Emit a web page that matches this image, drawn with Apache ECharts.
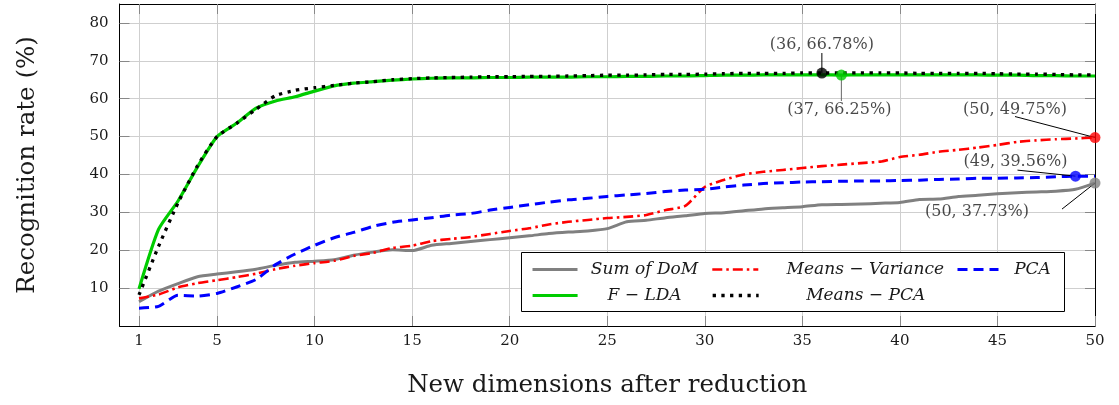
<!DOCTYPE html>
<html>
<head>
<meta charset="utf-8">
<script src="https://cdn.jsdelivr.net/npm/echarts@6/dist/echarts.min.js"></script>
<style>
  html, body { margin: 0; padding: 0; background: #fff; }
  #chart { width: 1119px; height: 405px; }
</style>
</head>
<body>
<div id="chart"></div>
<script>
// Number of retained dimensions after reduction
const dims = [1, 2, 3, 4, 5, 6, 7, 8, 9, 10, 11, 12, 13, 14, 15, 16, 17, 18, 19, 20,
  21, 22, 23, 24, 25, 26, 27, 28, 29, 30, 31, 32, 33, 34, 35, 36, 37, 38, 39, 40,
  41, 42, 43, 44, 45, 46, 47, 48, 49, 50];

// Recognition rate (%) per method
const sumOfDoM = [6.4, 9.2, 11.2, 13.0, 13.7, 14.3, 15.0, 16.0, 16.8, 17.1,
  17.5, 18.7, 19.5, 20.1, 19.9, 21.3, 21.8, 22.3, 22.8, 23.3,
  23.8, 24.4, 24.8, 25.1, 25.7, 27.5, 27.9, 28.6, 29.1, 29.7,
  29.9, 30.4, 30.9, 31.2, 31.5, 32.0, 32.1, 32.2, 32.4, 32.6,
  33.4, 33.5, 34.2, 34.5, 34.9, 35.2, 35.4, 35.6, 36.1, 37.73];
const meansVariance = [7.3, 8.3, 10.2, 11.3, 12.1, 12.9, 13.8, 15.0, 15.9, 16.6,
  17.2, 18.5, 19.3, 20.6, 21.2, 22.4, 23.0, 23.5, 24.3, 25.1,
  25.8, 26.8, 27.5, 28.0, 28.5, 28.8, 29.3, 30.6, 31.7, 36.7,
  38.6, 40.0, 40.7, 41.2, 41.7, 42.2, 42.6, 43.0, 43.4, 44.6,
  45.2, 46.0, 46.5, 47.1, 47.8, 48.6, 49.0, 49.3, 49.5, 49.75];
const pca = [4.7, 5.2, 8.1, 7.9, 8.6, 10.3, 12.3, 16.2, 19.0, 21.3,
  23.3, 24.7, 26.3, 27.4, 28.0, 28.6, 29.3, 29.7, 30.6, 31.3,
  32.0, 32.7, 33.3, 33.7, 34.2, 34.6, 35.0, 35.5, 35.9, 36.1,
  36.7, 37.2, 37.6, 37.8, 38.0, 38.1, 38.2, 38.3, 38.3, 38.4,
  38.5, 38.7, 38.8, 39.0, 39.0, 39.1, 39.2, 39.4, 39.56, 39.5];
const fLda = [9.8, 25.5, 33.0, 42.0, 50.0, 53.5, 57.5, 59.4, 60.5, 62.0,
  63.4, 64.1, 64.5, 64.9, 65.2, 65.4, 65.5, 65.5, 65.6, 65.6,
  65.7, 65.7, 65.7, 65.8, 65.8, 65.9, 65.9, 66.0, 66.0, 66.1,
  66.2, 66.2, 66.3, 66.3, 66.3, 66.3, 66.25, 66.3, 66.3, 66.3,
  66.3, 66.3, 66.3, 66.3, 66.2, 66.2, 66.1, 66.1, 66.0, 66.0];
const meansPca = [8.2, 21.0, 32.5, 42.3, 50.0, 53.5, 57.2, 60.8, 62.2, 62.9,
  63.5, 64.1, 64.5, 65.0, 65.3, 65.5, 65.6, 65.7, 65.8, 65.8,
  65.9, 65.9, 66.0, 66.1, 66.2, 66.2, 66.3, 66.4, 66.4, 66.5,
  66.6, 66.7, 66.7, 66.7, 66.8, 66.78, 66.8, 66.8, 66.8, 66.8,
  66.7, 66.7, 66.7, 66.7, 66.6, 66.5, 66.5, 66.4, 66.3, 66.3];

// Tick positions
const xTicks = [1, 5, 10, 15, 20, 25, 30, 35, 40, 45, 50];
const yTicks = [10, 20, 30, 40, 50, 60, 70, 80];

// Series names as shown in the legend
const names = ['Sum of DoM', 'Means − Variance', 'PCA', 'F − LDA', 'Means − PCA'];

// Highlighted points: which series and which dimension
const highlightSeries = ['Means − PCA', 'F − LDA', 'Means − Variance', 'PCA', 'Sum of DoM'];
const highlightDims = [36, 37, 50, 49, 50];

// ---- styling ----
const FONT = 'DejaVu Serif';
const TEXT = '#1a1a1a';
const valuesByName = {
  'Sum of DoM': sumOfDoM,
  'Means − Variance': meansVariance,
  'PCA': pca,
  'F − LDA': fLda,
  'Means − PCA': meansPca
};
const styleByName = {
  'Sum of DoM':       { color: '#808080', width: 3,   type: 'solid' },
  'Means − Variance': { color: '#ff0000', width: 2.6, type: [10, 4, 2.5, 4] },
  'PCA':              { color: '#0000ff', width: 3,   type: [10, 6] },
  'F − LDA':          { color: '#00cc00', width: 3.2, type: 'solid' },
  'Means − PCA':      { color: '#000000', width: 3.3, type: [3.3, 5.4] }
};
// label centre offset and leader-line end offset, relative to each highlighted dot
const calloutStyle = [
  { label: [0, -28],   lead: [0, -20],   leadColor: '#000' },
  { label: [-2, 35],   lead: [0, 26],    leadColor: '#666' },
  { label: [-80, -28], lead: [-80, -21], leadColor: '#000' },
  { label: [-60, -14], lead: [-58, -6],  leadColor: '#000' },
  { label: [-118, 29], lead: [-33, 26],  leadColor: '#000' }
];

const grid = { left: 119.5, right: 24, top: 4, bottom: 79 };

const chart = echarts.init(document.getElementById('chart'), null, { renderer: 'canvas' });

const lineSeries = names.map(name => {
  const st = styleByName[name];
  return {
    name: name,
    type: 'line',
    data: dims.map((d, i) => [d, valuesByName[name][i]]),
    symbol: 'none',
    smooth: 0.2,
    z: 2,
    lineStyle: { color: st.color, width: st.width, type: st.type, cap: 'butt', join: 'round' },
    itemStyle: { color: st.color },
    emphasis: { disabled: true },
    animation: false
  };
});

const dotData = highlightSeries.map((name, k) => {
  const x = highlightDims[k];
  const y = valuesByName[name][dims.indexOf(x)];
  return {
    value: [x, y],
    itemStyle: { color: styleByName[name].color },
    label: { offset: calloutStyle[k].label }
  };
});

const dotSeries = {
  name: 'highlights',
  type: 'scatter',
  data: dotData,
  symbol: 'circle',
  symbolSize: 11,
  z: 5,
  silent: true,
  animation: false,
  label: {
    show: true,
    position: 'inside',
    fontFamily: FONT,
    fontSize: 16,
    color: TEXT,
    formatter: p => '(' + p.value[0] + ', ' + p.value[1].toFixed(2) + '%)'
  }
};

// One legend per cell so the two rows line up in columns
const legendFont = 'italic 17px "' + FONT + '"';
const measureCtx = document.createElement('canvas').getContext('2d');
measureCtx.font = legendFont;
const legendCells = [
  { name: 'Sum of DoM',       left: 531, cy: 270, iconW: 45, center: 643 },
  { name: 'Means − Variance', left: 711, cy: 270, iconW: 46, center: 864 },
  { name: 'PCA',              left: 956, cy: 270, iconW: 41, center: 1031 },
  { name: 'F − LDA',          left: 531, cy: 296, iconW: 45, center: 643 },
  { name: 'Means − PCA',      left: 711, cy: 296, iconW: 46, center: 864 }
];
const legends = legendCells.map(c => {
  const w = measureCtx.measureText(c.name).width;
  const pad = Math.max(0, c.center - w / 2 - (c.left + c.iconW + 5));
  return {
    data: [c.name],
    left: c.left,
    top: c.cy - 9,
    orient: 'horizontal',
    padding: 0,
    itemWidth: c.iconW,
    itemHeight: 14,
    selectedMode: false,
    z: 6,
    itemStyle: { opacity: 0 },
    lineStyle: { width: 'inherit' },
    textStyle: {
      fontFamily: FONT, fontStyle: 'italic', fontSize: 17, color: TEXT,
      padding: [0, 0, 0, pad]
    }
  };
});

const axisText = { fontFamily: FONT, fontSize: 15, color: TEXT };

chart.setOption({
  animation: false,
  backgroundColor: '#fff',
  grid: Object.assign({ containLabel: false, outerBoundsMode: 'none' }, grid),
  legend: legends,
  xAxis: [
    {
      type: 'value', min: 0, max: 50, interval: 5, position: 'bottom',
      name: 'New dimensions after reduction',
      nameLocation: 'middle', nameGap: 47,
      nameTextStyle: { fontFamily: FONT, fontSize: 24.5, color: TEXT },
      axisLine: { show: true, onZero: false, lineStyle: { color: '#000', width: 1 } },
      axisTick: { show: true, inside: true, length: 10, customValues: xTicks,
                  lineStyle: { color: '#888', width: 1 } },
      axisLabel: Object.assign({ customValues: xTicks, margin: 8 }, axisText),
      splitLine: { show: true, lineStyle: { color: '#cfcfcf', width: 1 } }
    },
    {
      type: 'value', min: 0, max: 50, interval: 5, position: 'top',
      axisLine: { show: true, onZero: false, lineStyle: { color: '#000', width: 1 } },
      axisTick: { show: true, inside: true, length: 10, customValues: xTicks,
                  lineStyle: { color: '#888', width: 1 } },
      axisLabel: { show: false },
      splitLine: { show: false }
    }
  ],
  yAxis: [
    {
      type: 'value', min: 0, max: 85, interval: 10, position: 'left',
      name: 'Recognition rate (%)',
      nameLocation: 'middle', nameGap: 79, nameRotate: 90,
      nameTextStyle: { fontFamily: FONT, fontSize: 24.5, color: TEXT },
      axisLine: { show: true, onZero: false, lineStyle: { color: '#000', width: 1 } },
      axisTick: { show: true, inside: true, length: 10, customValues: yTicks,
                  lineStyle: { color: '#888', width: 1 } },
      axisLabel: Object.assign({ customValues: yTicks, margin: 11 }, axisText),
      splitLine: { show: true, lineStyle: { color: '#cfcfcf', width: 1 } }
    },
    {
      type: 'value', min: 0, max: 85, interval: 10, position: 'right',
      axisLine: { show: true, onZero: false, lineStyle: { color: '#000', width: 1 } },
      axisTick: { show: true, inside: true, length: 10, customValues: yTicks,
                  lineStyle: { color: '#888', width: 1 } },
      axisLabel: { show: false },
      splitLine: { show: false }
    }
  ],
  series: lineSeries.concat([dotSeries])
});

// Legend frame and callout leader lines
const graphics = [{
  type: 'rect',
  z: 3,
  silent: true,
  shape: { x: 521.5, y: 252.5, width: 543, height: 59 },
  style: { fill: '#fff', stroke: '#000', lineWidth: 1 }
}];
dotData.forEach((d, k) => {
  const p = chart.convertToPixel({ gridIndex: 0 }, d.value);
  const e = calloutStyle[k].lead;
  graphics.push({
    type: 'line',
    z: 4,
    silent: true,
    shape: { x1: p[0], y1: p[1], x2: p[0] + e[0], y2: p[1] + e[1] },
    style: { stroke: calloutStyle[k].leadColor, lineWidth: 1 }
  });
});
chart.setOption({ graphic: graphics });
</script>
</body>
</html>
